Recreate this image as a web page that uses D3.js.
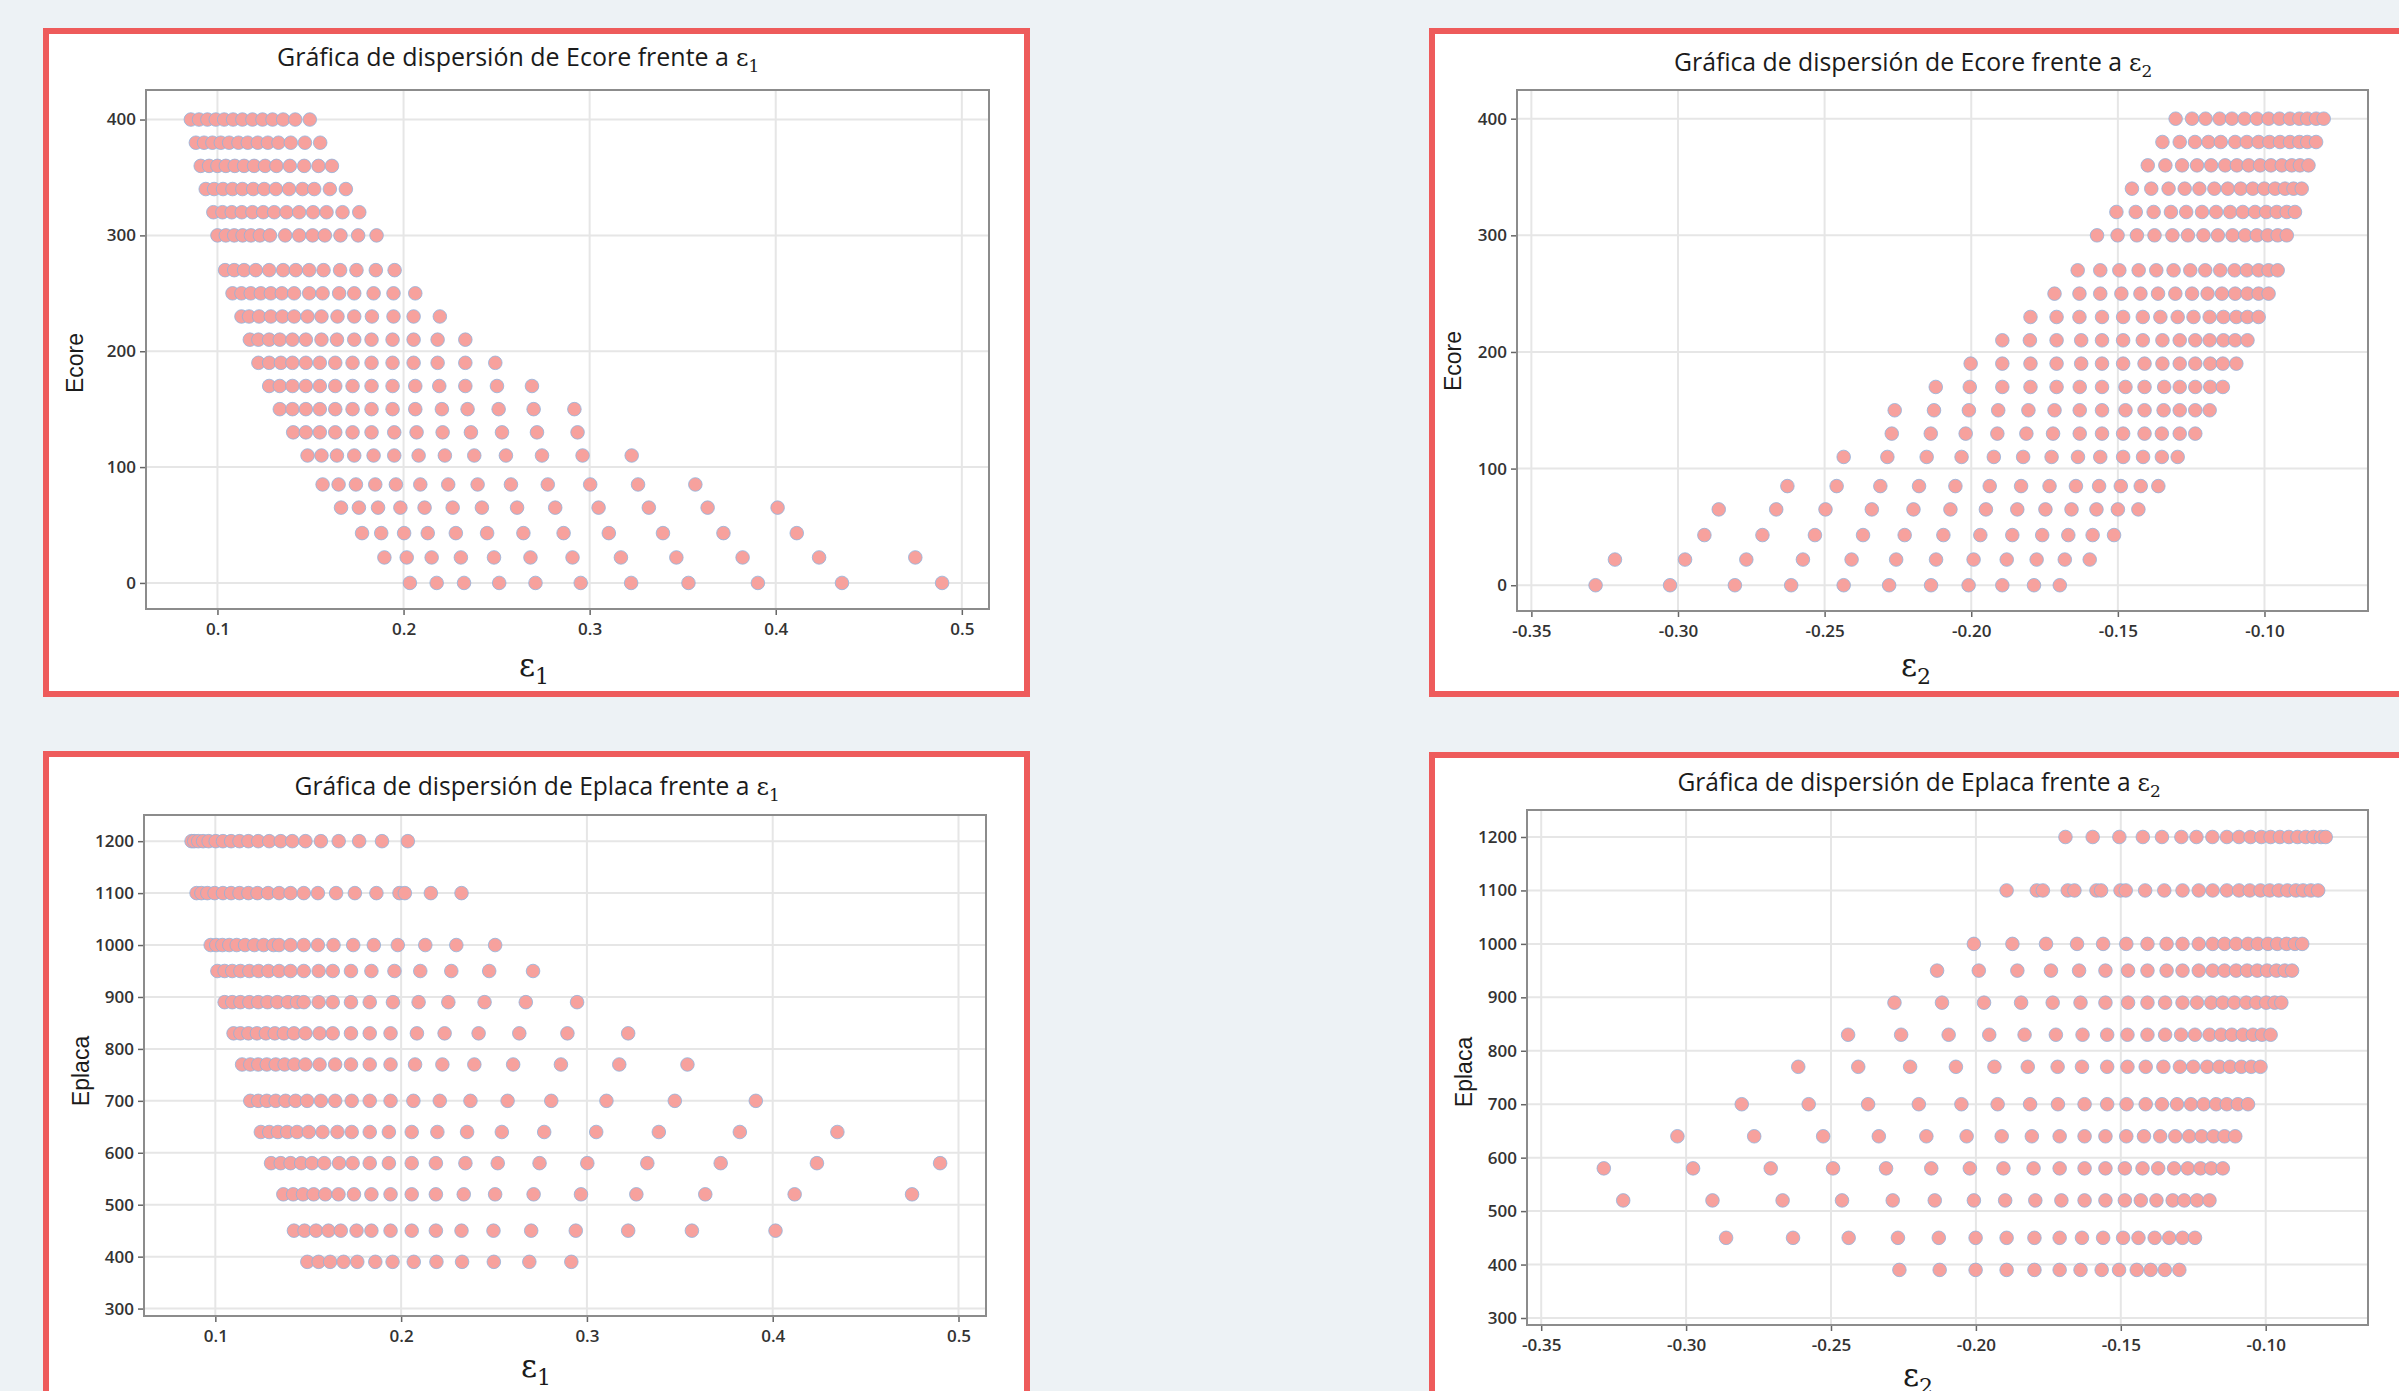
<!DOCTYPE html>
<html>
<head>
<meta charset="utf-8">
<script src="https://cdn.jsdelivr.net/npm/d3@7"></script>
<style>
  html, body { margin: 0; padding: 0; background: #edf2f5; }
  svg { display: block; }
</style>
</head>
<body>
<script>

// Ecore levels (rows of the top charts)
var ecoreLevels = [400, 380, 360, 340, 320, 300, 270, 250, 230, 210, 190, 170, 150, 130, 110, 85, 65, 43, 22, 0]

// epsilon 1 for each Ecore row (top left)
var e1ByEcore = [
  [0.0857, 0.0901, 0.0946, 0.0991, 0.1036, 0.1084, 0.1134, 0.1188, 0.1242, 0.1296, 0.1353, 0.1418, 0.1496],
  [0.0884, 0.0928, 0.0973, 0.1018, 0.1063, 0.1113, 0.1163, 0.1217, 0.1271, 0.1328, 0.1394, 0.1470, 0.1552],
  [0.0910, 0.0955, 0.1000, 0.1045, 0.1093, 0.1143, 0.1197, 0.1256, 0.1317, 0.1389, 0.1466, 0.1543, 0.1615],
  [0.0937, 0.0982, 0.1030, 0.1081, 0.1134, 0.1192, 0.1251, 0.1314, 0.1385, 0.1457, 0.1520, 0.1604, 0.1690],
  [0.0978, 0.1027, 0.1077, 0.1131, 0.1188, 0.1246, 0.1305, 0.1371, 0.1439, 0.1514, 0.1586, 0.1672, 0.1762],
  [0.1000, 0.1045, 0.1090, 0.1135, 0.1180, 0.1228, 0.1282, 0.1364, 0.1439, 0.1511, 0.1577, 0.1661, 0.1756, 0.1855],
  [0.1041, 0.1090, 0.1143, 0.1206, 0.1278, 0.1353, 0.1421, 0.1493, 0.1570, 0.1659, 0.1747, 0.1851, 0.1952],
  [0.1081, 0.1129, 0.1179, 0.1233, 0.1287, 0.1346, 0.1412, 0.1493, 0.1565, 0.1654, 0.1735, 0.1839, 0.1946, 0.2063],
  [0.1129, 0.1170, 0.1224, 0.1287, 0.1349, 0.1412, 0.1484, 0.1559, 0.1645, 0.1735, 0.1830, 0.1946, 0.2054, 0.2195],
  [0.1174, 0.1220, 0.1278, 0.1335, 0.1403, 0.1475, 0.1559, 0.1642, 0.1735, 0.1828, 0.1941, 0.2054, 0.2183, 0.2332],
  [0.1220, 0.1278, 0.1341, 0.1403, 0.1475, 0.1550, 0.1633, 0.1726, 0.1828, 0.1941, 0.2054, 0.2183, 0.2332, 0.2493],
  [0.1278, 0.1335, 0.1403, 0.1475, 0.1550, 0.1633, 0.1726, 0.1828, 0.1941, 0.2063, 0.2192, 0.2332, 0.2502, 0.2690],
  [0.1335, 0.1403, 0.1475, 0.1550, 0.1633, 0.1726, 0.1828, 0.1941, 0.2063, 0.2206, 0.2344, 0.2511, 0.2699, 0.2918],
  [0.1407, 0.1475, 0.1550, 0.1633, 0.1726, 0.1828, 0.1950, 0.2070, 0.2210, 0.2362, 0.2529, 0.2717, 0.2935],
  [0.1484, 0.1559, 0.1642, 0.1735, 0.1839, 0.1950, 0.2081, 0.2222, 0.2380, 0.2550, 0.2744, 0.2962, 0.3226],
  [0.1565, 0.1651, 0.1744, 0.1848, 0.1959, 0.2090, 0.2240, 0.2398, 0.2577, 0.2775, 0.3003, 0.3260, 0.3568],
  [0.1664, 0.1760, 0.1863, 0.1983, 0.2113, 0.2264, 0.2421, 0.2610, 0.2815, 0.3048, 0.3318, 0.3634, 0.4010],
  [0.1777, 0.1880, 0.2003, 0.2130, 0.2281, 0.2449, 0.2644, 0.2860, 0.3103, 0.3394, 0.3719, 0.4113],
  [0.1897, 0.2017, 0.2151, 0.2308, 0.2486, 0.2682, 0.2908, 0.3168, 0.3466, 0.3822, 0.4233, 0.4750],
  [0.2034, 0.2178, 0.2325, 0.2514, 0.2709, 0.2952, 0.3223, 0.3531, 0.3904, 0.4356, 0.4894]
]

// epsilon 2 for each Ecore row (top right)
var e2ByEcore = [
  [-0.1303, -0.1247, -0.1201, -0.1153, -0.1111, -0.1068, -0.1026, -0.0986, -0.0949, -0.0913, -0.0881, -0.0854, -0.0824, -0.0798],
  [-0.1348, -0.1289, -0.1237, -0.1191, -0.1149, -0.1100, -0.1060, -0.1020, -0.0983, -0.0947, -0.0913, -0.0881, -0.0854, -0.0824],
  [-0.1398, -0.1338, -0.1281, -0.1230, -0.1182, -0.1134, -0.1094, -0.1054, -0.1015, -0.0978, -0.0941, -0.0907, -0.0879, -0.0850],
  [-0.1452, -0.1386, -0.1327, -0.1272, -0.1222, -0.1171, -0.1125, -0.1081, -0.1040, -0.1001, -0.0964, -0.0930, -0.0901, -0.0873],
  [-0.1505, -0.1439, -0.1378, -0.1319, -0.1267, -0.1213, -0.1165, -0.1117, -0.1074, -0.1032, -0.0994, -0.0958, -0.0924, -0.0896],
  [-0.1571, -0.1501, -0.1435, -0.1375, -0.1314, -0.1261, -0.1208, -0.1159, -0.1109, -0.1066, -0.1026, -0.0989, -0.0955, -0.0924],
  [-0.1637, -0.1560, -0.1495, -0.1429, -0.1369, -0.1310, -0.1253, -0.1202, -0.1151, -0.1102, -0.1060, -0.1020, -0.0986, -0.0955],
  [-0.1716, -0.1631, -0.1560, -0.1488, -0.1423, -0.1363, -0.1304, -0.1247, -0.1194, -0.1145, -0.1100, -0.1058, -0.1020, -0.0986],
  [-0.1798, -0.1709, -0.1631, -0.1554, -0.1482, -0.1415, -0.1355, -0.1296, -0.1242, -0.1187, -0.1140, -0.1096, -0.1058, -0.1020],
  [-0.1894, -0.1800, -0.1709, -0.1625, -0.1554, -0.1482, -0.1415, -0.1348, -0.1289, -0.1236, -0.1187, -0.1140, -0.1100, -0.1058],
  [-0.2002, -0.1894, -0.1798, -0.1709, -0.1625, -0.1554, -0.1482, -0.1409, -0.1348, -0.1289, -0.1236, -0.1185, -0.1142, -0.1096],
  [-0.2121, -0.2005, -0.1894, -0.1798, -0.1709, -0.1630, -0.1554, -0.1474, -0.1409, -0.1342, -0.1289, -0.1236, -0.1185, -0.1142],
  [-0.2261, -0.2127, -0.2008, -0.1908, -0.1805, -0.1716, -0.1630, -0.1554, -0.1474, -0.1409, -0.1344, -0.1289, -0.1236, -0.1187],
  [-0.2271, -0.2138, -0.2019, -0.1911, -0.1812, -0.1721, -0.1630, -0.1554, -0.1482, -0.1409, -0.1350, -0.1289, -0.1236],
  [-0.2435, -0.2286, -0.2152, -0.2033, -0.1923, -0.1823, -0.1726, -0.1636, -0.1560, -0.1482, -0.1414, -0.1350, -0.1296],
  [-0.2627, -0.2459, -0.2310, -0.2178, -0.2054, -0.1937, -0.1830, -0.1733, -0.1643, -0.1564, -0.1490, -0.1422, -0.1362],
  [-0.2861, -0.2665, -0.2497, -0.2339, -0.2197, -0.2071, -0.1950, -0.1843, -0.1747, -0.1658, -0.1573, -0.1500, -0.1430],
  [-0.2910, -0.2712, -0.2533, -0.2369, -0.2227, -0.2095, -0.1969, -0.1860, -0.1758, -0.1669, -0.1586, -0.1513],
  [-0.3215, -0.2976, -0.2767, -0.2574, -0.2408, -0.2256, -0.2120, -0.1992, -0.1879, -0.1777, -0.1681, -0.1596],
  [-0.3281, -0.3027, -0.2806, -0.2614, -0.2435, -0.2280, -0.2137, -0.2009, -0.1894, -0.1786, -0.1698]
]

// Eplaca levels (rows of the bottom charts)
var eplacaLevels = [1200, 1100, 1000, 950, 890, 830, 770, 700, 640, 580, 520, 450, 390]

// epsilon 1 for each Eplaca row (bottom left)
var e1ByEplaca = [
  [0.0872, 0.0886, 0.0908, 0.0934, 0.0964, 0.1002, 0.1041, 0.1085, 0.1130, 0.1178, 0.1231, 0.1290, 0.1352, 0.1414, 0.1485, 0.1568, 0.1664, 0.1774, 0.1897, 0.2036],
  [0.0899, 0.0925, 0.0957, 0.0996, 0.1041, 0.1085, 0.1130, 0.1178, 0.1227, 0.1284, 0.1343, 0.1405, 0.1476, 0.1552, 0.1650, 0.1751, 0.1867, 0.1991, 0.2020, 0.2160, 0.2325],
  [0.0975, 0.1005, 0.1038, 0.1075, 0.1115, 0.1160, 0.1210, 0.1260, 0.1313, 0.1343, 0.1405, 0.1476, 0.1552, 0.1636, 0.1742, 0.1853, 0.1982, 0.2130, 0.2297, 0.2506],
  [0.1011, 0.1050, 0.1091, 0.1135, 0.1183, 0.1233, 0.1286, 0.1343, 0.1405, 0.1476, 0.1556, 0.1632, 0.1730, 0.1840, 0.1964, 0.2103, 0.2270, 0.2474, 0.2710],
  [0.1050, 0.1091, 0.1135, 0.1183, 0.1231, 0.1281, 0.1334, 0.1391, 0.1440, 0.1476, 0.1556, 0.1632, 0.1730, 0.1831, 0.1956, 0.2094, 0.2254, 0.2449, 0.2671, 0.2947],
  [0.1098, 0.1135, 0.1178, 0.1224, 0.1272, 0.1320, 0.1369, 0.1423, 0.1485, 0.1561, 0.1632, 0.1730, 0.1831, 0.1943, 0.2085, 0.2234, 0.2417, 0.2636, 0.2895, 0.3222],
  [0.1144, 0.1188, 0.1231, 0.1277, 0.1325, 0.1373, 0.1426, 0.1485, 0.1561, 0.1645, 0.1730, 0.1831, 0.1943, 0.2075, 0.2222, 0.2394, 0.2603, 0.2860, 0.3174, 0.3541],
  [0.1188, 0.1231, 0.1277, 0.1325, 0.1378, 0.1432, 0.1494, 0.1568, 0.1645, 0.1734, 0.1831, 0.1943, 0.2066, 0.2208, 0.2373, 0.2573, 0.2808, 0.3105, 0.3473, 0.3909],
  [0.1245, 0.1290, 0.1337, 0.1387, 0.1440, 0.1503, 0.1577, 0.1657, 0.1734, 0.1831, 0.1934, 0.2057, 0.2195, 0.2355, 0.2542, 0.2770, 0.3050, 0.3387, 0.3823, 0.4348],
  [0.1300, 0.1352, 0.1405, 0.1462, 0.1520, 0.1586, 0.1666, 0.1739, 0.1831, 0.1934, 0.2057, 0.2187, 0.2346, 0.2520, 0.2745, 0.3002, 0.3325, 0.3720, 0.4238, 0.4901],
  [0.1366, 0.1419, 0.1472, 0.1529, 0.1592, 0.1663, 0.1746, 0.1840, 0.1943, 0.2057, 0.2187, 0.2337, 0.2506, 0.2713, 0.2968, 0.3266, 0.3637, 0.4118, 0.4750],
  [0.1423, 0.1480, 0.1542, 0.1609, 0.1675, 0.1760, 0.1840, 0.1943, 0.2057, 0.2187, 0.2325, 0.2497, 0.2700, 0.2940, 0.3222, 0.3565, 0.4015],
  [0.1495, 0.1556, 0.1618, 0.1690, 0.1764, 0.1861, 0.1954, 0.2068, 0.2190, 0.2328, 0.2499, 0.2690, 0.2916]
]

// epsilon 2 for each Eplaca row (bottom right)
var e2ByEplaca = [
  [-0.1691, -0.1597, -0.1505, -0.1424, -0.1358, -0.1291, -0.1239, -0.1184, -0.1134, -0.1092, -0.1052, -0.1015, -0.0983, -0.0951, -0.0920, -0.0890, -0.0862, -0.0835, -0.0809, -0.0793],
  [-0.1894, -0.1790, -0.1769, -0.1683, -0.1660, -0.1584, -0.1568, -0.1501, -0.1483, -0.1416, -0.1350, -0.1287, -0.1231, -0.1183, -0.1134, -0.1092, -0.1055, -0.1018, -0.0986, -0.0955, -0.0925, -0.0896, -0.0871, -0.0844, -0.0819],
  [-0.2007, -0.1874, -0.1758, -0.1651, -0.1561, -0.1481, -0.1408, -0.1342, -0.1287, -0.1231, -0.1183, -0.1142, -0.1102, -0.1061, -0.1027, -0.0992, -0.0960, -0.0928, -0.0899, -0.0874],
  [-0.2134, -0.1990, -0.1857, -0.1741, -0.1644, -0.1553, -0.1475, -0.1408, -0.1342, -0.1287, -0.1231, -0.1183, -0.1142, -0.1102, -0.1064, -0.1029, -0.0995, -0.0963, -0.0934, -0.0909],
  [-0.2281, -0.2117, -0.1972, -0.1844, -0.1735, -0.1639, -0.1553, -0.1475, -0.1408, -0.1347, -0.1287, -0.1237, -0.1188, -0.1148, -0.1108, -0.1067, -0.1032, -0.0998, -0.0969, -0.0946],
  [-0.2441, -0.2258, -0.2094, -0.1954, -0.1832, -0.1724, -0.1632, -0.1547, -0.1477, -0.1408, -0.1347, -0.1292, -0.1244, -0.1194, -0.1154, -0.1117, -0.1079, -0.1044, -0.1013, -0.0983],
  [-0.2613, -0.2406, -0.2227, -0.2069, -0.1936, -0.1821, -0.1718, -0.1634, -0.1547, -0.1477, -0.1414, -0.1353, -0.1296, -0.1250, -0.1202, -0.1160, -0.1123, -0.1084, -0.1050, -0.1018],
  [-0.2808, -0.2577, -0.2372, -0.2197, -0.2050, -0.1925, -0.1813, -0.1717, -0.1625, -0.1547, -0.1480, -0.1414, -0.1358, -0.1306, -0.1258, -0.1214, -0.1171, -0.1134, -0.1096, -0.1061],
  [-0.3030, -0.2765, -0.2527, -0.2335, -0.2171, -0.2032, -0.1911, -0.1807, -0.1711, -0.1625, -0.1553, -0.1481, -0.1420, -0.1364, -0.1312, -0.1264, -0.1221, -0.1180, -0.1142, -0.1105],
  [-0.3284, -0.2976, -0.2708, -0.2493, -0.2310, -0.2154, -0.2021, -0.1905, -0.1801, -0.1711, -0.1625, -0.1553, -0.1486, -0.1425, -0.1371, -0.1316, -0.1269, -0.1225, -0.1188, -0.1148],
  [-0.3217, -0.2909, -0.2667, -0.2462, -0.2287, -0.2142, -0.2007, -0.1899, -0.1795, -0.1705, -0.1625, -0.1553, -0.1486, -0.1431, -0.1377, -0.1321, -0.1281, -0.1237, -0.1194],
  [-0.2862, -0.2631, -0.2439, -0.2269, -0.2128, -0.2001, -0.1894, -0.1798, -0.1711, -0.1634, -0.1561, -0.1492, -0.1439, -0.1383, -0.1333, -0.1287, -0.1244],
  [-0.2264, -0.2125, -0.2001, -0.1894, -0.1798, -0.1711, -0.1639, -0.1566, -0.1506, -0.1445, -0.1397, -0.1348, -0.1298]
]

// tick labels
var xTicksE1 = [0.1, 0.2, 0.3, 0.4, 0.5]
var xTicksE2 = [-0.35, -0.30, -0.25, -0.20, -0.15, -0.10]
var yTicksEcore = [0, 100, 200, 300, 400]
var yTicksEplaca = [300, 400, 500, 600, 700, 800, 900, 1000, 1100, 1200]

var width = 2399, height = 1391

var svg = d3.select("body")
            .append("svg")
            .attr("width", width)
            .attr("height", height)

svg.append("rect")
    .attr("width", width)
    .attr("height", height)
    .attr("fill", "#edf2f5")

var panels = [
  { box: [43, 28, 1030, 697], plot: [146, 90, 989, 609],
    xDomain: [0.0616, 0.5146], yDomain: [-22.5, 425.5],
    xTicks: xTicksE1, yTicks: yTicksEcore, fmt: function(d){ return d.toFixed(1) },
    levels: ecoreLevels, values: e1ByEcore,
    title: "Gráfica de dispersión de Ecore frente a", sub: "1", tx: 521, ty: 66, tw: 488,
    yName: "Ecore", ylx: 75, yly: 363, xlx: 534, xly: 676 },
  { box: [1429, 28, 2412, 697], plot: [1517, 90, 2368, 611],
    xDomain: [-0.3549, -0.0647], yDomain: [-22.1, 424.6],
    xTicks: xTicksE2, yTicks: yTicksEcore, fmt: function(d){ return d.toFixed(2) },
    levels: ecoreLevels, values: e2ByEcore,
    title: "Gráfica de dispersión de Ecore frente a", sub: "2", tx: 1916, ty: 71, tw: 484,
    yName: "Ecore", ylx: 1453, yly: 361, xlx: 1916, xly: 676 },
  { box: [43, 751, 1030, 1404], plot: [144, 815, 986, 1316],
    xDomain: [0.0616, 0.5148], yDomain: [285.7, 1250.4],
    xTicks: xTicksE1, yTicks: yTicksEplaca, fmt: function(d){ return d.toFixed(1) },
    levels: eplacaLevels, values: e1ByEplaca,
    title: "Gráfica de dispersión de Eplaca frente a", sub: "1", tx: 540, ty: 795, tw: 491,
    yName: "Eplaca", ylx: 81, yly: 1071, xlx: 536, xly: 1377 },
  { box: [1429, 752, 2412, 1404], plot: [1527, 810, 2368, 1325],
    xDomain: [-0.3549, -0.0647], yDomain: [286.9, 1250.5],
    xTicks: xTicksE2, yTicks: yTicksEplaca, fmt: function(d){ return d.toFixed(2) },
    levels: eplacaLevels, values: e2ByEplaca,
    title: "Gráfica de dispersión de Eplaca frente a", sub: "2", tx: 1922, ty: 791, tw: 489,
    yName: "Eplaca", ylx: 1464, yly: 1072, xlx: 1918, xly: 1386 }
]

panels.forEach(function(p){

  var g = svg.append("g")

  // red frame round the panel
  g.append("rect")
    .attr("x", p.box[0] + 3)
    .attr("y", p.box[1] + 3)
    .attr("width", p.box[2] - p.box[0] - 6)
    .attr("height", p.box[3] - p.box[1] - 6)
    .attr("fill", "white")
    .attr("stroke", "#ee5b5b")
    .attr("stroke-width", 6)

  var x = d3.scaleLinear().domain(p.xDomain).range([p.plot[0], p.plot[2]])
  var y = d3.scaleLinear().domain(p.yDomain).range([p.plot[3], p.plot[1]])

  // grid
  g.selectAll(".vgrid")
    .data(p.xTicks)
    .enter()
    .append("line")
    .attr("x1", function(d){ return x(d) })
    .attr("x2", function(d){ return x(d) })
    .attr("y1", p.plot[1])
    .attr("y2", p.plot[3])
    .style("stroke", "#e6e6e6")
    .style("stroke-width", 2)

  g.selectAll(".hgrid")
    .data(p.yTicks)
    .enter()
    .append("line")
    .attr("x1", p.plot[0])
    .attr("x2", p.plot[2])
    .attr("y1", function(d){ return y(d) })
    .attr("y2", function(d){ return y(d) })
    .style("stroke", "#e6e6e6")
    .style("stroke-width", 2)

  // axes
  var xAxis = g.append("g")
    .attr("transform", "translate(0," + p.plot[3] + ")")
    .call(d3.axisBottom(x).tickValues(p.xTicks).tickFormat(p.fmt).tickSize(6).tickPadding(8))

  var yAxis = g.append("g")
    .attr("transform", "translate(" + p.plot[0] + ",0)")
    .call(d3.axisLeft(y).tickValues(p.yTicks).tickFormat(d3.format("d")).tickSize(6).tickPadding(4))

  ;[xAxis, yAxis].forEach(function(a){
    a.select(".domain").remove()
    a.selectAll(".tick line").style("stroke", "#666").style("stroke-width", 1.5)
    a.selectAll(".tick text")
      .style("font-family", "'Open Sans', sans-serif")
      .style("font-weight", 600)
      .style("font-size", "17px")
      .style("fill", "#333")
  })

  // points
  var pts = []
  p.levels.forEach(function(lvl, i){
    p.values[i].forEach(function(v){ pts.push({ x: v, y: lvl }) })
  })

  g.selectAll("circle")
    .data(pts)
    .enter()
    .append("circle")
    .attr("cx", function(d){ return x(d.x) })
    .attr("cy", function(d){ return y(d.y) })
    .attr("r", 6.8)
    .style("fill", "#f7a19d")
    .style("stroke", "#8fb4de")
    .style("stroke-width", 0.8)

  // plot frame
  g.append("rect")
    .attr("x", p.plot[0])
    .attr("y", p.plot[1])
    .attr("width", p.plot[2] - p.plot[0])
    .attr("height", p.plot[3] - p.plot[1])
    .attr("fill", "none")
    .style("stroke", "#8c8c8c")
    .style("stroke-width", 2)

  // title
  var x0 = p.tx - p.tw / 2
  g.append("text")
    .attr("x", x0)
    .attr("y", p.ty)
    .attr("textLength", p.tw - 36)
    .attr("lengthAdjust", "spacingAndGlyphs")
    .style("font-family", "'Open Sans', sans-serif")
    .style("font-size", "26px")
    .style("fill", "#1b1b1b")
    .text(p.title)

  var te = g.append("text")
    .attr("x", x0 + p.tw - 29)
    .attr("y", p.ty)
    .style("font-family", "'DejaVu Serif', serif")
    .style("font-size", "24px")
    .style("fill", "#1b1b1b")
  te.append("tspan").text("ε")
  te.append("tspan").attr("dy", 6).style("font-size", "17px").text(p.sub)

  // x label
  var xl = g.append("text")
    .attr("x", p.xlx)
    .attr("y", p.xly)
    .attr("text-anchor", "middle")
    .style("font-family", "'DejaVu Serif', serif")
    .style("font-size", "31px")
    .style("fill", "#1b1b1b")
  xl.append("tspan").text("ε")
  xl.append("tspan").attr("dy", 8).style("font-size", "22px").text(p.sub)

  // y label
  g.append("text")
    .attr("transform", "translate(" + p.ylx + "," + p.yly + ") rotate(-90)")
    .attr("text-anchor", "middle")
    .attr("dy", "0.35em")
    .style("font-family", "'Liberation Sans', Arial, sans-serif")
    .style("font-size", "23px")
    .style("fill", "#1b1b1b")
    .text(p.yName)
})

</script>
</body>
</html>
